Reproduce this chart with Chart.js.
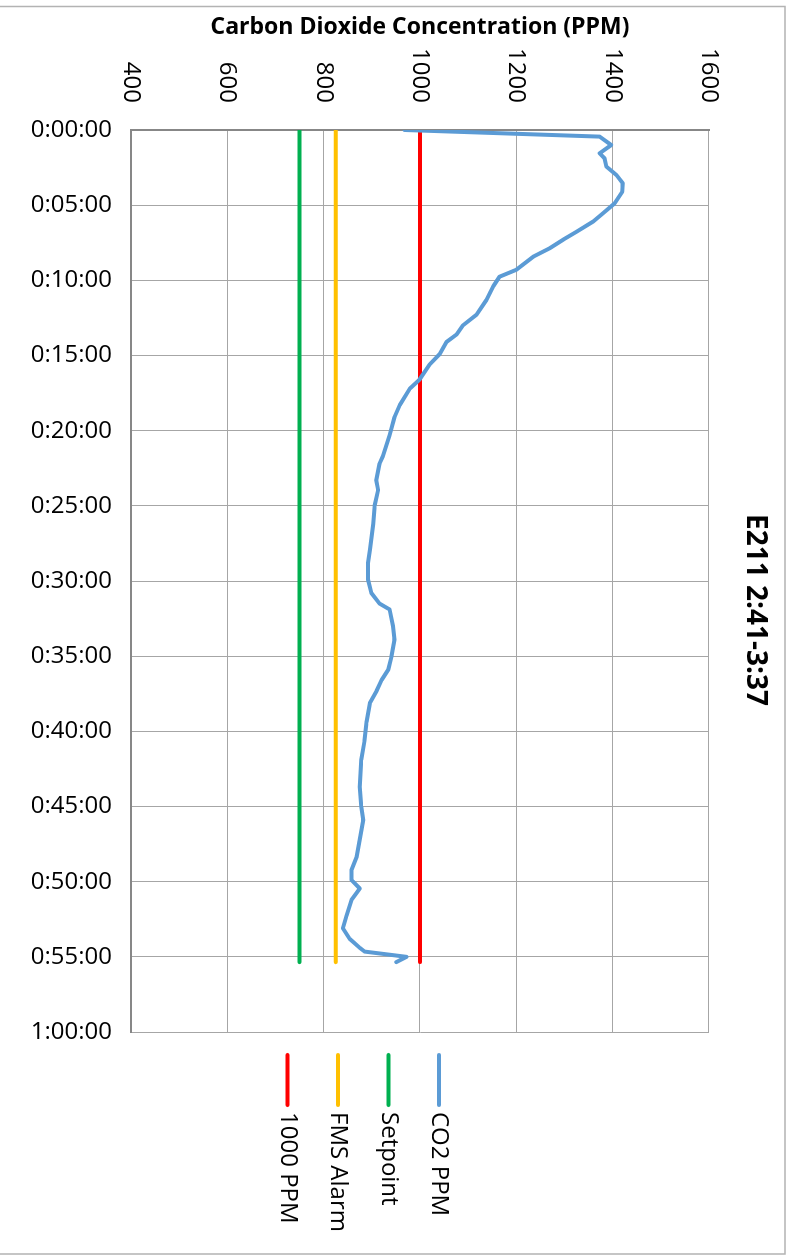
<!DOCTYPE html>
<html>
<head>
<meta charset="utf-8">
<script src="https://cdn.jsdelivr.net/npm/chart.js@4.4.0/dist/chart.umd.min.js"></script>
<style>
  html, body { margin: 0; padding: 0; background: #fff; overflow: hidden; }
  /* the chart is built lying down and turned a quarter turn clockwise */
  #wrap {
    position: absolute; left: 0; top: 0;
    width: 1255px; height: 789px;
    transform-origin: 0 0;
    transform: translate(789px, 0) rotate(90deg);
  }
</style>
</head>
<body>
<div id="wrap"><canvas id="chart1" width="1255" height="789"></canvas></div>
<script>
// elapsed time in minutes and CO2 reading (PPM)
const co2Minutes = [0, 0.44, 1.0, 1.55, 1.88, 2.44, 3.0, 3.55, 4.1, 4.88, 5.54, 6.1, 6.77, 7.3, 7.87, 8.43,
  9.3, 9.76, 10.4, 11.3, 12.3, 13.0, 13.6, 14.1, 14.9, 15.6, 16.6, 17.2, 18.3, 19.1, 20.3, 21.7, 22.2,
  23.3, 23.95, 24.95, 26.2, 27.9, 28.8, 29.9, 30.8, 31.5, 31.9, 33.0, 33.9, 35.0, 35.9, 36.6, 37.3, 38.1,
  39.4, 40.6, 41.9, 43.7, 45.0, 45.9, 47.2, 48.4, 49.2, 49.9, 50.45, 51.2, 52.3, 53.1, 53.8, 54.4, 54.65,
  55.0, 55.35];
const co2Ppm = [968, 1373, 1397, 1373, 1383, 1387, 1408, 1421, 1420, 1404, 1380, 1359, 1325, 1297, 1269, 1235,
  1200, 1165, 1152, 1138, 1117, 1089, 1076, 1055, 1041, 1020, 999, 979, 958, 947, 937, 923, 916,
  909, 913, 906, 903, 896, 892, 892, 899, 916, 937, 944, 947, 941, 934, 920, 910, 896,
  889, 885, 878, 875, 878, 882, 875, 868, 858, 858, 875, 858, 847, 840, 854, 875, 885,
  972, 951];

// reference lines run over the same span
const refMinutes = [0, 55.35];
const setpoint = [750, 750];
const fmsAlarm = [825, 825];
const limit1000 = [1000, 1000];

const seriesLabels = ['CO2 PPM', 'Setpoint', 'FMS Alarm', '1000 PPM'];
const seriesColors = ['#5b9bd5', '#00b050', '#ffc000', '#ff0000'];

const timeMin = 0, timeMax = 60, timeStep = 5;
const ppmMin = 400, ppmMax = 1600, ppmStep = 200;

function pts(xs, ys) {
  return xs.map((x, i) => ({x: x, y: ys[i]}));
}

function fmtTime(v) {
  const h = Math.floor(v / 60);
  const m = Math.round(v % 60);
  return h + ':' + String(m).padStart(2, '0') + ':00';
}

Chart.defaults.font.family = "'Open Sans', sans-serif";
Chart.defaults.color = '#000';

// title, legend and outer frame, placed where the original sheet had them
const decor = {
  id: 'decor',
  afterDraw(chart) {
    const ctx = chart.ctx;
    ctx.save();
    ctx.strokeStyle = '#b3b3b3';
    ctx.lineWidth = 1.5;
    ctx.beginPath();
    ctx.moveTo(6.5, 800);
    ctx.lineTo(6.5, 4);
    ctx.lineTo(1254, 4);
    ctx.lineTo(1254, 800);
    ctx.stroke();

    ctx.fillStyle = '#000';
    ctx.font = "bold 28px 'Open Sans'";
    ctx.textAlign = 'center';
    ctx.textBaseline = 'middle';
    ctx.fillText('E211 2:41-3:37', 610, 34);

    ctx.font = "24px 'Open Sans'";
    ctx.textAlign = 'left';
    chart.data.datasets.forEach((ds, i) => {
      const y = 350 + i * 50.5;
      ctx.strokeStyle = ds.borderColor;
      ctx.lineWidth = 4;
      ctx.lineCap = 'round';
      ctx.beginPath();
      ctx.moveTo(1055, y);
      ctx.lineTo(1105, y);
      ctx.stroke();
      ctx.fillText(ds.label, 1112, y);
    });
    ctx.restore();
  }
};

const lineStyle = {
  fill: false,
  tension: 0,
  borderWidth: 4,
  borderCapStyle: 'round',
  borderJoinStyle: 'round',
  pointRadius: 0
};

new Chart(document.getElementById('chart1'), {
  type: 'line',
  data: {
    datasets: [
      Object.assign({label: seriesLabels[0], data: pts(co2Minutes, co2Ppm), borderColor: seriesColors[0], backgroundColor: seriesColors[0]}, lineStyle),
      Object.assign({label: seriesLabels[1], data: pts(refMinutes, setpoint), borderColor: seriesColors[1], backgroundColor: seriesColors[1]}, lineStyle),
      Object.assign({label: seriesLabels[2], data: pts(refMinutes, fmsAlarm), borderColor: seriesColors[2], backgroundColor: seriesColors[2]}, lineStyle),
      Object.assign({label: seriesLabels[3], data: pts(refMinutes, limit1000), borderColor: seriesColors[3], backgroundColor: seriesColors[3]}, lineStyle)
    ]
  },
  options: {
    responsive: false,
    animation: false,
    layout: { padding: { left: 0, top: 80, right: 223, bottom: 0 } },
    plugins: {
      legend: { display: false },
      tooltip: { enabled: false }
    },
    scales: {
      x: {
        type: 'linear',
        position: 'bottom',
        min: timeMin,
        max: timeMax,
        ticks: {
          stepSize: timeStep,
          minRotation: 90,
          maxRotation: 90,
          padding: 19,
          font: { size: 24 },
          callback: v => fmtTime(v)
        },
        grid: { color: '#a6a6a6', lineWidth: 1, drawTicks: false },
        border: { color: '#878787', width: 2 },
        afterFit: s => { s.height = 131; }
      },
      y: {
        type: 'linear',
        position: 'left',
        min: ppmMin,
        max: ppmMax,
        ticks: {
          stepSize: ppmStep,
          padding: 27,
          font: { size: 24 },
          callback: v => String(v)
        },
        grid: { color: '#a6a6a6', lineWidth: 1, drawTicks: false },
        border: { color: '#878787', width: 2 },
        title: {
          display: true,
          text: 'Carbon Dioxide Concentration (PPM)',
          font: { size: 23, weight: 'bold' },
          padding: { top: 14, bottom: 0 }
        },
        afterFit: s => { s.width = 130; }
      }
    }
  },
  plugins: [decor]
});
</script>
</body>
</html>
